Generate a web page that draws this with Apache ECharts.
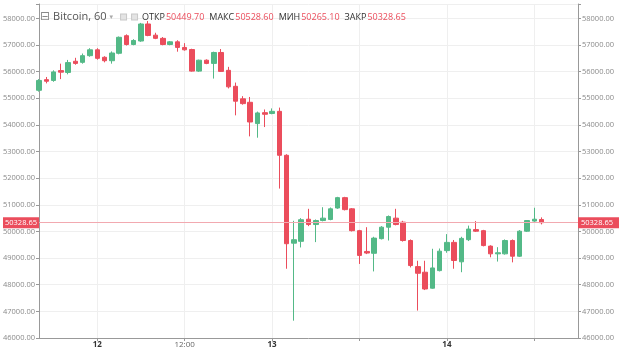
<!DOCTYPE html>
<html lang="ru">
<head>
    <meta charset="utf-8">
    <title>Bitcoin, 60</title>
    <script src="https://cdn.jsdelivr.net/npm/echarts@6/dist/echarts.min.js"></script>
    <style>
        html, body { margin: 0; padding: 0; background: #fff; }
    </style>
</head>
<body>
<div id="main" style="width: 620px;height:352px;"></div>
<script type="text/javascript">
    // часовые свечи, [open, close, low, high] собираются ниже
    var opens = [55300, 55700, 55670, 56040, 55970, 56390, 56350, 56600, 56820, 56540,
        56410, 56690, 57350, 57020, 57150, 57790, 57370, 57250, 57020, 57120,
        56910, 56830, 56020, 56430, 56310, 56720, 56050, 55450, 54980, 54850,
        54050, 54460, 54430, 54510, 52860, 49560, 49630, 50460, 50260, 50410,
        50450, 50880, 51270, 50850, 50030, 49250, 49180, 49730, 50160, 50500,
        50350, 49660, 48680, 48470, 47870, 48530, 49280, 49590, 48860, 49690,
        50070, 50030, 49450, 49160, 49160, 49660, 49070, 50010, 50390, 50449.70];
    var closes = [55670, 55640, 55990, 55980, 56340, 56310, 56600, 56820, 56500, 56410,
        56700, 57290, 57020, 57170, 57790, 57360, 57250, 57020, 57120, 56910,
        56820, 56020, 56430, 56310, 56720, 56010, 55430, 54890, 54800, 54110,
        54450, 54400, 54510, 52860, 49540, 49690, 50440, 50260, 50410, 50500,
        50850, 51270, 50820, 50030, 49100, 49190, 49750, 50160, 50560, 50260,
        49660, 48720, 48430, 47840, 48630, 49260, 49590, 48910, 49740, 50090,
        50010, 49470, 49160, 49200, 49660, 49070, 50010, 50410, 50460, 50328.65];
    var lows = [55250, 55560, 55620, 55720, 55900, 56260, 56300, 56560, 56450, 56350,
        56300, 56650, 56980, 56990, 57120, 57330, 57220, 56990, 56990, 56750,
        56790, 56000, 55990, 56280, 55740, 55990, 55370, 54360, 54760, 53570,
        53520, 53920, 54400, 51610, 48600, 46650, 49400, 50200, 49600, 50380,
        50420, 50850, 50790, 50000, 48780, 49150, 48500, 49700, 49660, 50230,
        49620, 48650, 47030, 47800, 47850, 48500, 49200, 48600, 48470, 49640,
        49980, 49440, 49030, 48870, 49130, 48840, 49040, 49980, 50360, 50265.10];
    var highs = [55720, 55800, 56050, 56300, 56440, 56520, 56680, 56880, 56880, 56580,
        56760, 57320, 57400, 57220, 57830, 57900, 57460, 57300, 57150, 57180,
        57070, 56860, 56450, 56460, 56750, 56850, 56180, 55590, 55080, 55050,
        54500, 54580, 54620, 54650, 52900, 50400, 50500, 50850, 50450, 50910,
        50900, 51300, 51300, 50880, 50060, 50160, 49800, 50200, 50600, 50850,
        50400, 49700, 48900, 48900, 49350, 49360, 49900, 49680, 49800, 50220,
        50390, 50060, 49480, 49410, 49700, 49700, 50050, 50430, 50890, 50528.60];

    // подписи оси времени
    var tickIdx = [8, 20, 32, 44, 56, 68];
    var tickText = ['12', '12:00', '13', '', '14', ''];
    var slotCount = 75;   // свечи + пустое место справа

    var up = '#53b987';
    var down = '#eb4d5c';

    var categories = [];
    for (var i = 0; i < slotCount; i++) {
        var h = 16 + i;
        var d = 11 + Math.floor(h / 24);
        categories.push(d + ' ' + (h % 24) + ':00');
    }

    var candles = [];
    for (var j = 0; j < opens.length; j++) {
        candles.push([opens[j], closes[j], lows[j], highs[j]]);
    }

    var last = opens.length - 1;
    var lastClose = closes[last];

    var isTick = function (i) { return tickIdx.indexOf(i) >= 0; };

    var yLabel = {
        fontSize: 7.5,
        color: '#8a8a8a',
        fontFamily: 'Open Sans',
        margin: 4,
        formatter: function (v) { return v % 1000 === 0 ? v.toFixed(2) : ''; }
    };

    var myChart = echarts.init(document.getElementById('main'));
    var option = {
        animation: false,
        backgroundColor: '#fff',
        title: {
            left: 35,
            top: 6,
            text: '{ic|⊟}{nm|Bitcoin, 60}{ar|▾}{bx|}{sp|}{bx|}{k|ОТКР}{v|' + opens[last].toFixed(2) +
                '}{k|МАКС}{v|' + highs[last].toFixed(2) +
                '}{k|МИН}{v|' + lows[last].toFixed(2) +
                '}{k|ЗАКР}{v|' + closes[last].toFixed(2) + '}',
            textStyle: {
                fontWeight: 'normal',
                fontSize: 8,
                rich: {
                    ic: { fontSize: 12, color: '#8a8a8a', fontFamily: 'DejaVu Sans', fontWeight: 'normal', padding: [0, 3, 0, 0] },
                    nm: { fontSize: 11, color: '#555', fontFamily: 'Open Sans', fontWeight: 'normal' },
                    ar: { fontSize: 7, color: '#aaa', fontFamily: 'DejaVu Sans', fontWeight: 'normal', padding: [0, 8, 0, 3] },
                    bx: { width: 5, height: 5, backgroundColor: '#e4e4e4', borderColor: '#c8c8c8', borderWidth: 1 },
                    sp: { width: 6 },
                    k: { fontSize: 9, color: '#333', fontFamily: 'Open Sans', fontWeight: 'normal', padding: [0, 1, 0, 5] },
                    v: { fontSize: 9, color: down, fontFamily: 'Open Sans', fontWeight: 'normal' }
                }
            }
        },
        grid: { left: 36, right: 42, top: 4, bottom: 14 },
        xAxis: {
            type: 'category',
            data: categories,
            boundaryGap: false,
            axisLine: { lineStyle: { color: '#999' } },
            axisTick: { interval: function (i) { return isTick(i); }, length: 3, lineStyle: { color: '#999' } },
            axisLabel: {
                interval: function (i) { return isTick(i); },
                formatter: function (v, i) {
                    var t = tickText[tickIdx.indexOf(i)] || '';
                    return t.indexOf(':') >= 0 ? '{t|' + t + '}' : '{d|' + t + '}';
                },
                margin: 3,
                rich: {
                    d: { fontSize: 8, color: '#333', fontWeight: 'bold', fontFamily: 'Open Sans' },
                    t: { fontSize: 8, color: '#666', fontFamily: 'Open Sans' }
                }
            },
            splitLine: { show: true, interval: function (i) { return isTick(i); }, lineStyle: { color: '#efefef' } }
        },
        yAxis: [
            {
                type: 'value', position: 'left', min: 46000, max: 58540, interval: 1000,
                axisLine: { show: true, lineStyle: { color: '#999' } },
                axisTick: { show: true, length: 3, lineStyle: { color: '#999' } },
                axisLabel: yLabel,
                splitLine: { show: true, lineStyle: { color: '#efefef' } }
            },
            {
                type: 'value', position: 'right', min: 46000, max: 58540, interval: 1000,
                axisLine: { show: true, lineStyle: { color: '#999' } },
                axisTick: { show: true, length: 3, lineStyle: { color: '#999' } },
                axisLabel: yLabel,
                splitLine: { show: false }
            }
        ],
        series: [{
            type: 'candlestick',
            data: candles,
            barWidth: 5,
            clip: true,
            itemStyle: {
                color: up, color0: down,
                borderColor: up, borderColor0: down,
                borderWidth: 1
            },
            markLine: {
                silent: true,
                symbol: ['none', 'none'],
                lineStyle: { color: '#f2a9b0', width: 1, type: 'solid' },
                data: [
                    {
                        yAxis: lastClose,
                        label: {
                            position: 'start', distance: 0, formatter: lastClose.toFixed(2),
                            color: '#fff', backgroundColor: down, fontSize: 7.5, padding: [2, 2, 1, 2],
                            fontFamily: 'Open Sans'
                        }
                    },
                    {
                        yAxis: lastClose,
                        label: {
                            position: 'end', distance: 0, formatter: lastClose.toFixed(2),
                            color: '#fff', backgroundColor: down, fontSize: 7.5, padding: [2, 6, 1, 3],
                            fontFamily: 'Open Sans'
                        }
                    }
                ]
            }
        }]
    };
    myChart.setOption(option);
</script>
</body>
</html>
